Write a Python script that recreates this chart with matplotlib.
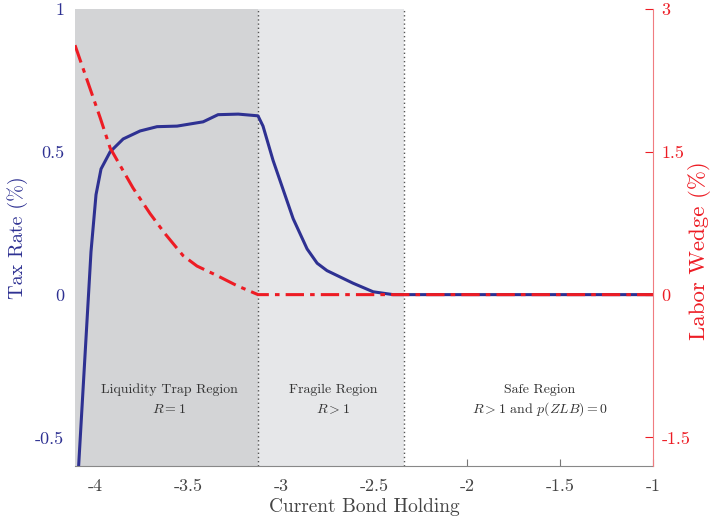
import matplotlib
matplotlib.use("Agg")
import matplotlib.pyplot as plt

# =========================
# DATA
# =========================
bond_tax = [-4.10, -4.022, -3.995, -3.968, -3.919, -3.849, -3.758, -3.667, -3.559,
            -3.419, -3.339, -3.23, -3.124, -3.097, -3.043, -2.935, -2.860, -2.806,
            -2.753, -2.613, -2.505, -2.398, -1.0]
tax_rate = [-0.73, 0.15, 0.35, 0.44, 0.50, 0.545, 0.573, 0.588, 0.59,
            0.605, 0.63, 0.632, 0.626, 0.59, 0.47, 0.266, 0.16, 0.11,
            0.084, 0.04, 0.01, 0.0, 0.0]

bond_wedge = [-4.108, -3.973, -3.919, -3.796, -3.704, -3.624, -3.527, -3.452,
              -3.344, -3.237, -3.124, -1.0]
labor_wedge = [2.62, 1.86, 1.54, 1.12, 0.85, 0.64, 0.41, 0.30,
               0.20, 0.094, 0.0, 0.0]

region_edges = [-4.108, -3.124, -2.339]
region_names = ["Liquidity Trap Region", "Fragile Region", "Safe Region"]
region_conds = ["$R=1$", "$R>1$", "$R>1$ and $p(ZLB)=0$"]
region_text_x = [-3.602, -2.72, -1.608]

xticks = [-4, -3.5, -3, -2.5, -2, -1.5, -1]
xtick_labels = ["-4", "-3.5", "-3", "-2.5", "-2", "-1.5", "-1"]
ltax_ticks = [-0.5, 0, 0.5, 1]
ltax_labels = ["-0.5", "0", "0.5", "1"]
rw_ticks = [-1.5, 0, 1.5, 3]
rw_labels = ["-1.5", "0", "1.5", "3"]

# =========================
# STYLE
# =========================
plt.rcParams["font.family"] = ["cmr10", "DejaVu Serif"]
plt.rcParams["mathtext.fontset"] = "cm"
plt.rcParams["axes.unicode_minus"] = False

azul = "#2E3192"
vermelho = "#ED1C24"
cinza = "#444444"

fig = plt.figure(figsize=(7.12, 5.25), dpi=100)
ax = fig.add_axes([75 / 712, 59 / 525, 578 / 712, 457 / 525])

ax.set_xlim(-4.108, -1)
ax.set_ylim(-0.6, 1)

# regioes sombreadas
ax.axvspan(region_edges[0], region_edges[1], color="#D3D4D6", lw=0, zorder=3)
ax.axvspan(region_edges[1], region_edges[2], color="#E6E7E9", lw=0, zorder=3)
for xe in region_edges[1:]:
    ax.axvline(xe, color="#555555", ls=(0, (1, 2)), lw=1.0, zorder=4)

ax.plot(bond_tax, tax_rate, color=azul, lw=2.2, zorder=5)

for xt, nome, cond in zip(region_text_x, region_names, region_conds):
    ax.text(xt, -0.332, nome, ha="center", va="center", fontsize=10, color="#333333", zorder=6)
    ax.text(xt, -0.402, cond, ha="center", va="center", fontsize=10, color="#333333", zorder=6)

ax.set_xticks(xticks)
ax.set_xticklabels(xtick_labels)
ax.set_yticks(ltax_ticks)
ax.set_yticklabels(ltax_labels)
ax.tick_params(axis="x", direction="in", length=5, color="#777777", labelcolor=cinza,
               labelsize=13, pad=9)
ax.tick_params(axis="y", length=0, labelcolor=azul, labelsize=13, pad=8)
ax.set_xlabel("Current Bond Holding", fontsize=14, color=cinza, labelpad=3)
ax.set_ylabel("Tax Rate (%)", fontsize=14.5, color=azul, labelpad=5)

for s in ["top", "left", "right"]:
    ax.spines[s].set_visible(False)
ax.spines["bottom"].set_color("#888888")
ax.spines["bottom"].set_zorder(6)

# eixo direito
ax2 = ax.twinx()
ax2.set_ylim(-1.8, 3)
ax2.plot(bond_wedge, labor_wedge, color=vermelho, lw=2.2, ls=(0, (6, 2, 1.5, 2)))
ax2.set_yticks(rw_ticks)
ax2.set_yticklabels(rw_labels)
ax2.tick_params(axis="y", direction="in", length=6, color=vermelho, labelcolor=vermelho,
                labelsize=13, pad=6)
for s in ["top", "left", "bottom"]:
    ax2.spines[s].set_visible(False)
ax2.spines["right"].set_color("#F07C80")

# rotulo do eixo direito (no original fica colado na borda)
fig.text(711 / 712, 1 - 251 / 525, "Labor Wedge (%)", rotation=90, ha="right", va="center",
         fontsize=16.5, color=vermelho)

fig.savefig("out.png", dpi=100)
